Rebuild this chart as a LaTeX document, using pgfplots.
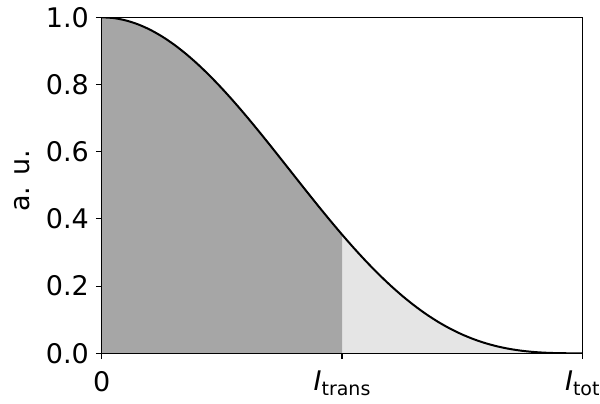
\documentclass[border=0pt]{standalone}
\usepackage{fontspec}
\setmainfont{DejaVu Sans}
\usepackage{pgfplots}
\usepackage{pgfplotstable}
\pgfplotsset{compat=1.18}
\definecolor{darkfill}{HTML}{A6A6A6}
\definecolor{lightfill}{HTML}{E5E5E5}
\pgfplotstableread{
x y
0.000 1.000000
0.025 0.997689
0.050 0.990790
0.075 0.979348
0.100 0.963520
0.125 0.943456
0.150 0.919380
0.175 0.891541
0.200 0.860240
0.225 0.825798
0.250 0.788580
0.275 0.748968
0.300 0.707370
0.325 0.664187
0.350 0.619860
0.375 0.574829
0.400 0.529510
0.425 0.484323
0.450 0.439680
0.475 0.395969
0.500 0.353550
0.525 0.312772
0.550 0.273930
0.575 0.237285
0.600 0.203080
0.625 0.171481
0.650 0.142650
0.675 0.116659
0.700 0.093570
0.725 0.073381
0.750 0.056040
0.775 0.041464
0.800 0.029510
0.825 0.020000
0.850 0.012720
0.875 0.007425
0.900 0.003830
0.925 0.001624
0.950 0.000483
0.975 0.000061
1.000 0.000000
}\datatable
\newcommand{\Isub}[1]{{\itshape I}\raisebox{-0.35ex}{\fontsize{9.5}{11}\selectfont #1}}
\begin{document}
\begin{tikzpicture}
\begin{axis}[
  scale only axis,
  width=240.3pt, height=168pt,
  xmin=0, xmax=1, ymin=0, ymax=1,
  axis on top,
  axis line style={line width=0.55pt},
  tick style={black, line width=0.55pt},
  tick align=outside,
  major tick length=2.85pt,
  xtick pos=bottom, ytick pos=left,
  xtick={0,0.5,1},
  xticklabels={0,\Isub{trans},\Isub{tot}},
  ytick={0,0.2,0.4,0.6,0.8,1.0},
  yticklabel style={/pgf/number format/.cd, fixed, fixed zerofill, precision=1},
  /pgf/number format/assume math mode=true,
  ticklabel style={font=\fontsize{13.5}{16}\selectfont},
  xticklabel style={yshift=-2.5pt},
  ylabel={a. u.},
  ylabel style={font=\fontsize{13.5}{16}\selectfont, at={(axis description cs:-0.1658,0.514)}, anchor=center},
]
\addplot[draw=none, fill=lightfill, restrict x to domain=0.5:1] table[x=x,y=y] {\datatable} \closedcycle;
\addplot[draw=none, fill=darkfill, restrict x to domain=0:0.5] table[x=x,y=y] {\datatable} \closedcycle;
\addplot[black, line width=1pt, smooth] table[x=x,y=y] {\datatable};
\end{axis}
\pgfresetboundingbox
\path ([shift={(-50.85pt,-24.85pt)}]current axis.south west) rectangle ([shift={(8.85pt,8.65pt)}]current axis.north east);
\end{tikzpicture}
\end{document}
